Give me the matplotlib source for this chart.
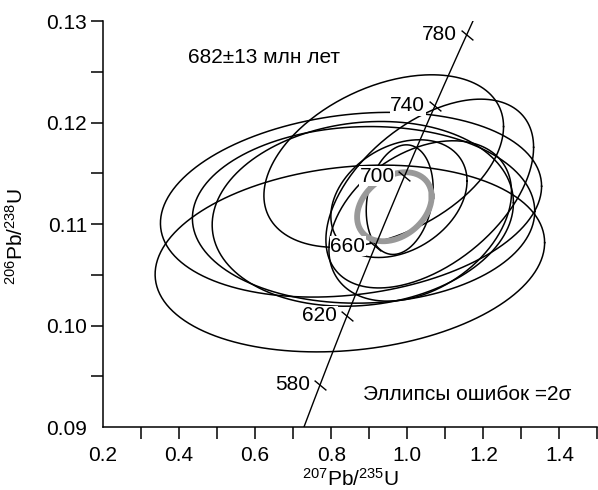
import numpy as np
import matplotlib
matplotlib.use("Agg")
import matplotlib.pyplot as plt
from matplotlib.path import Path

plt.rcParams['font.family'] = ['Liberation Sans', 'DejaVu Sans']
plt.rcParams['mathtext.default'] = 'regular'

# decay constants (1/yr)
L238 = 1.55125e-10
L235 = 9.8485e-10

# concordia span and age ticks, Ma
conc_start = 550
conc_end = 795
tick_ages = [580, 620, 660, 700, 740, 780]

# error ellipses (2 sigma)
ell_x = [0.849, 0.852, 1.059, 0.883, 0.938, 0.978, 1.034, 0.980, 0.885]
ell_y = [0.1066, 0.1119, 0.1130, 0.1110, 0.1162, 0.1125, 0.1103, 0.1124, 0.1109]
ell_sx = [0.512, 0.501, 0.273, 0.396, 0.315, 0.179, 0.240, 0.088, 0.450]
ell_sy = [0.0092, 0.0091, 0.0093, 0.0091, 0.0085, 0.0058, 0.0079, 0.0054, 0.0087]
ell_rho = [0.17, 0.20, 0.49, 0.12, 0.40, 0.30, 0.36, 0.20, 0.04]

# concordia age ellipse
age_x, age_y = 0.966, 0.1117
age_sx, age_sy, age_rho = 0.098, 0.0034, 0.30


def ellipse(cx, cy, sx, sy, rho, n=300):
    t = np.linspace(0, 2 * np.pi, n)
    x = cx + sx * np.cos(t)
    y = cy + sy * (rho * np.cos(t) + np.sqrt(1 - rho ** 2) * np.sin(t))
    return x, y


def concordia(age):
    a = np.asarray(age) * 1e6
    return np.exp(L235 * a) - 1, np.exp(L238 * a) - 1


fig = plt.figure(figsize=(5.98, 4.90), dpi=100)
ax = fig.add_axes([103 / 598, 63 / 490, 494.5 / 598, 406 / 490])

for i in range(len(ell_x)):
    ex, ey = ellipse(ell_x[i], ell_y[i], ell_sx[i], ell_sy[i], ell_rho[i])
    ax.plot(ex, ey, color='black', lw=1.1, zorder=2)

gx, gy = ellipse(age_x, age_y, age_sx, age_sy, age_rho)
ax.plot(gx, gy, color='#999999', lw=4.2, zorder=3)

cx, cy = concordia(np.linspace(conc_start, conc_end, 200))
ax.plot(cx, cy, color='black', lw=1.0, zorder=4)

tick_marker = Path([(-1, 0.83), (1, -0.83)], [Path.MOVETO, Path.LINETO])
tx, ty = concordia(tick_ages)
ax.plot(tx, ty, ls='none', marker=tick_marker, ms=8.5, mec='black', mew=1.0, zorder=5)
for age, x, y in zip(tick_ages, tx, ty):
    ax.annotate(str(age), xy=(x, y), xytext=(-7, 0), textcoords='offset points',
                ha='right', va='center', fontsize=15, zorder=6,
                bbox=dict(fc='white', ec='none', pad=0.3))

ax.text(0.172, 0.911, '682±13 млн лет', transform=ax.transAxes, fontsize=15,
        ha='left', va='center')
ax.text(0.526, 0.079, 'Эллипсы ошибок =2σ', transform=ax.transAxes, fontsize=15,
        ha='left', va='center')

ax.set_xlim(0.2, 1.5)
ax.set_ylim(0.09, 0.13)
ax.set_xticks(np.arange(0.2, 1.41, 0.2))
ax.set_xticks(np.arange(0.3, 1.51, 0.2), minor=True)
ax.set_yticks(np.arange(0.09, 0.1301, 0.01))
ax.set_yticks(np.arange(0.095, 0.13, 0.01), minor=True)
ax.set_xticklabels(['0.2', '0.4', '0.6', '0.8', '1.0', '1.2', '1.4'])
ax.set_yticklabels(['0.09', '0.10', '0.11', '0.12', '0.13'])
ax.tick_params(which='both', direction='out', length=8.5, width=1.1, labelsize=15)
ax.tick_params(axis='x', pad=5)
ax.tick_params(axis='y', pad=3)
ax.xaxis.get_major_ticks()[0].tick1line.set_visible(False)
ax.yaxis.get_major_ticks()[0].tick1line.set_visible(False)

for s in ['top', 'right']:
    ax.spines[s].set_visible(False)
for s in ['left', 'bottom']:
    ax.spines[s].set_linewidth(1.1)

ax.set_xlabel('$^{207}$Pb/$^{235}$U', fontsize=15, labelpad=2)
ax.set_ylabel('$^{206}$Pb/$^{238}$U', fontsize=15)
ax.yaxis.set_label_coords(-0.155, 0.47)

fig.savefig('out.png', dpi=100)
